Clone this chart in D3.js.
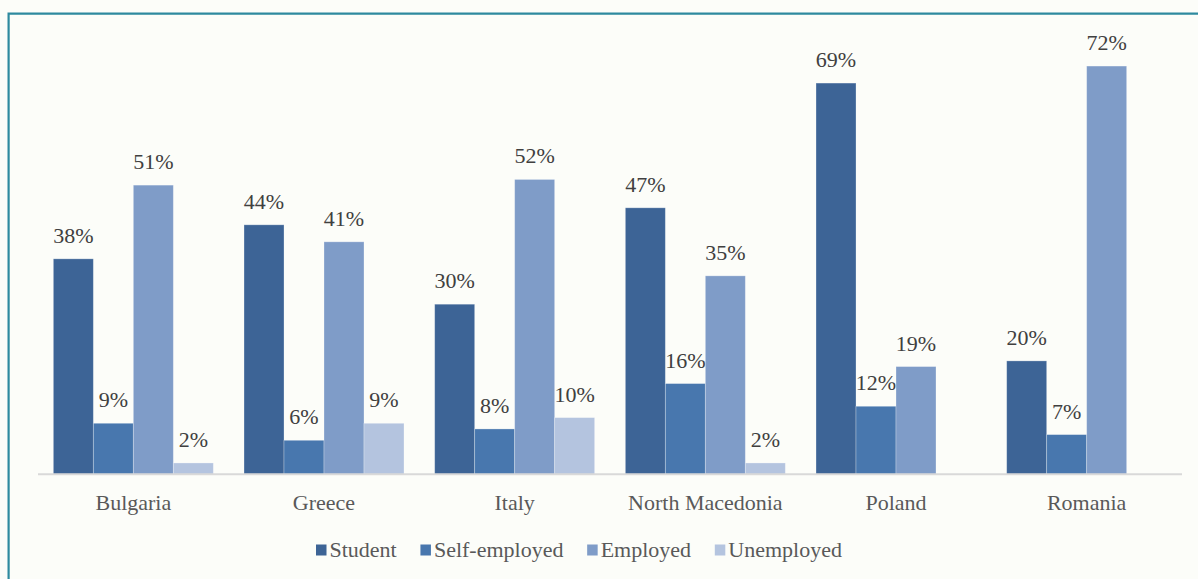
<!DOCTYPE html>
<html>
<head>
<meta charset="utf-8">
<script src="https://cdn.jsdelivr.net/npm/d3@7"></script>
<style>
  body { margin: 0; background: #fcfdf9; }
  #chart { display: block; }
  #chart text { font-family: "Times New Roman", "Liberation Serif", Tinos, serif !important; }
</style>
</head>
<body>
<svg id="chart" width="1198" height="579"></svg>
<script>
// Share of respondents by employment status, per country (%)
const countries = ["Bulgaria", "Greece", "Italy", "North Macedonia", "Poland", "Romania"];
const seriesNames = ["Student", "Self-employed", "Employed", "Unemployed"];
const student      = [38, 44, 30, 47, 69, 20];
const selfEmployed = [9, 6, 8, 16, 12, 7];
const employed     = [51, 41, 52, 35, 19, 72];
const unemployed   = [2, 9, 10, 2, null, null];
const colors = ["#3d6496", "#4877ae", "#7f9cc8", "#b4c4df"];

const seriesValues = [student, selfEmployed, employed, unemployed];

const svg = d3.select("#chart");

// left and top edges of the chart frame
svg.append("path")
  .attr("d", "M8.6,579V13.6H1198")
  .attr("fill", "none")
  .attr("stroke", "#2e8a9f").attr("stroke-width", 2.2);

const plot = { left: 38, right: 1182, top: 20.7, bottom: 474.3 };

const x0 = d3.scaleBand()
  .domain(countries)
  .range([plot.left, plot.right])
  .paddingInner(0.161)
  .paddingOuter(0.0805);

const x1 = d3.scaleBand()
  .domain(seriesNames)
  .range([0, x0.bandwidth()])
  .padding(0);

const y = d3.scaleLinear()
  .domain([0, 80])
  .range([plot.bottom, plot.top]);

function label(sel, color) {
  return sel.style("font-size", "22px").style("fill", color);
}

// bars and value labels
const groups = svg.append("g").selectAll("g")
  .data(countries)
  .join("g")
  .attr("transform", d => `translate(${x0(d)},0)`);

groups.each(function (country, ci) {
  const g = d3.select(this);
  const rows = seriesNames.map((s, si) => ({ s, si, v: seriesValues[si][ci] }))
    .filter(r => r.v !== null);

  g.selectAll("rect")
    .data(rows)
    .join("rect")
    .attr("x", r => x1(r.s))
    .attr("y", r => y(r.v))
    .attr("width", x1.bandwidth())
    .attr("height", r => y(0) - y(r.v))
    .attr("fill", r => colors[r.si])
    .attr("stroke", "#ffffff")
    .attr("stroke-opacity", 0.35)
    .attr("stroke-width", 0.8);

  g.selectAll("text")
    .data(rows)
    .join("text")
    .attr("x", r => x1(r.s) + x1.bandwidth() / 2)
    .attr("y", r => y(r.v) - 16)
    .attr("text-anchor", "middle")
    .call(label, "#404040")
    .text(r => r.v + "%");
});

// category axis
const xAxis = svg.append("g")
  .attr("transform", `translate(0,${plot.bottom})`)
  .call(d3.axisBottom(x0).tickSize(0).tickPadding(0));
xAxis.attr("font-family", null).attr("font-size", null);
xAxis.select(".domain")
  .attr("stroke", "#d9d9d9").attr("stroke-width", 2)
  .attr("d", `M${plot.left},0H${plot.right}`);
xAxis.selectAll(".tick text")
  .attr("y", 36)
  .attr("dy", 0)
  .call(label, "#595959");

// legend: one row, each entry placed after the previous label's width
const legend = svg.append("g").attr("transform", "translate(316,0)");
let lx = 0;
seriesNames.forEach((name, i) => {
  legend.append("rect")
    .attr("x", lx).attr("y", 544.5)
    .attr("width", 10.5).attr("height", 11)
    .attr("fill", colors[i]);
  const t = legend.append("text")
    .attr("x", lx + 13.5).attr("y", 556.5)
    .call(label, "#595959")
    .text(name);
  lx += 13.5 + t.node().getComputedTextLength() + 23.7;
});
</script>
</body>
</html>
